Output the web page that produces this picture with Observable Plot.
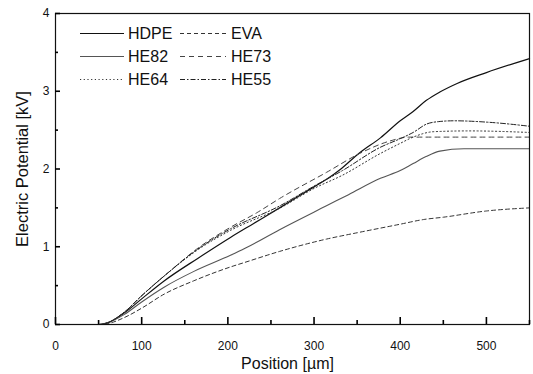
<!DOCTYPE html>
<html>
<head>
<meta charset="utf-8">
<script src="https://cdn.jsdelivr.net/npm/d3@7"></script>
<script src="https://cdn.jsdelivr.net/npm/@observablehq/plot@0.6"></script>
<style>
  html, body { margin: 0; padding: 0; background: #fff; }
  #chart { position: relative; width: 533px; height: 374px; }
  svg { font-family: "Liberation Sans", Arial, sans-serif; }
</style>
</head>
<body>
<div id="chart"></div>
<script>
// ---- data ----
const seriesNames = ["HDPE", "EVA", "HE82", "HE73", "HE64", "HE55"];

const hdpeX = [25, 50, 60, 80, 100, 126, 165, 203, 230, 260, 300, 315, 330, 353, 377, 400, 415, 430, 446, 466, 500, 550];
const hdpeY = [0, 0, 0.02, 0.15, 0.33, 0.56, 0.85, 1.12, 1.30, 1.50, 1.77, 1.87, 1.99, 2.21, 2.40, 2.62, 2.74, 2.88, 2.99, 3.10, 3.24, 3.42];

const evaX = [25, 50, 60, 80, 100, 126, 160, 203, 220, 260, 315, 350, 400, 427, 450, 500, 550];
const evaY = [0, 0, 0.01, 0.09, 0.21, 0.39, 0.56, 0.74, 0.80, 0.94, 1.10, 1.18, 1.29, 1.35, 1.38, 1.46, 1.50];

const he82X = [25, 50, 60, 80, 100, 126, 160, 203, 220, 260, 315, 340, 377, 400, 415, 430, 446, 474, 550];
const he82Y = [0, 0, 0.02, 0.13, 0.29, 0.48, 0.68, 0.89, 0.98, 1.22, 1.53, 1.67, 1.88, 1.98, 2.07, 2.16, 2.23, 2.26, 2.26];

const he73X = [25, 50, 60, 80, 100, 130, 165, 203, 234, 260, 315, 353, 388, 410, 450, 550];
const he73Y = [0, 0, 0.02, 0.16, 0.37, 0.66, 0.98, 1.25, 1.44, 1.62, 1.96, 2.20, 2.36, 2.41, 2.41, 2.41];

const he64X = [25, 50, 60, 80, 100, 130, 165, 203, 261, 300, 333, 377, 400, 415, 439, 480, 550];
const he64Y = [0, 0, 0.02, 0.16, 0.37, 0.66, 0.96, 1.21, 1.50, 1.75, 1.92, 2.20, 2.33, 2.41, 2.48, 2.49, 2.47];

const he55X = [25, 50, 60, 80, 100, 130, 165, 203, 261, 300, 333, 377, 400, 415, 431, 445, 462, 504, 550];
const he55Y = [0, 0, 0.02, 0.16, 0.37, 0.66, 0.97, 1.23, 1.53, 1.78, 1.98, 2.28, 2.39, 2.47, 2.58, 2.61, 2.62, 2.60, 2.55];

const xMajorTicks = [0, 100, 200, 300, 400, 500];
const xMinorTicks = [50, 150, 250, 350, 450, 550];
const yMajorTicks = [0, 1, 2, 3, 4];
const yMinorTicks = [0.5, 1.5, 2.5, 3.5];

// ---- styles ----
const styles = {
  HDPE: {stroke: "#111", strokeWidth: 1.2, dash: null},
  EVA:  {stroke: "#333", strokeWidth: 1, dash: "4,3"},
  HE82: {stroke: "#555", strokeWidth: 1.1, dash: null},
  HE73: {stroke: "#444", strokeWidth: 1, dash: "5,4"},
  HE64: {stroke: "#333", strokeWidth: 1, dash: "1.2,2.5"},
  HE55: {stroke: "#222", strokeWidth: 1, dash: "5,2,1.5,2"}
};

const xs = {HDPE: hdpeX, EVA: evaX, HE82: he82X, HE73: he73X, HE64: he64X, HE55: he55X};
const ys = {HDPE: hdpeY, EVA: evaY, HE82: he82Y, HE73: he73Y, HE64: he64Y, HE55: he55Y};

const lineMarks = seriesNames.map(name => {
  const data = xs[name].map((x, i) => ({x, y: ys[name][i]}));
  const s = styles[name];
  return Plot.line(data, {
    x: "x", y: "y", curve: "monotone-x",
    stroke: s.stroke, strokeWidth: s.strokeWidth,
    strokeDasharray: s.dash
  });
});

const W = 533, H = 374, ML = 55, MR = 4, MT = 13, MB = 50;
const frameW = W - ML - MR, frameH = H - MT - MB;
const fmt = d3.format("d");

const inwardTicksX = (ticks, len) => Plot.tickX(ticks, {x: d => d, insetTop: frameH - len, stroke: "#000", strokeWidth: 1.6});
const inwardTicksY = (ticks, len) => Plot.tickY(ticks, {y: d => d, insetRight: frameW - len, stroke: "#000", strokeWidth: 1.6});

const plot = Plot.plot({
  width: W,
  height: H,
  marginLeft: ML,
  marginRight: MR,
  marginTop: MT,
  marginBottom: MB,
  style: {fontFamily: "'Liberation Sans', Arial, sans-serif", background: "#fff"},
  x: {domain: [0, 550]},
  y: {domain: [0, 4]},
  marks: [
    ...lineMarks,
    Plot.frame({stroke: "#111", strokeWidth: 1.2}),
    Plot.axisX({ticks: xMajorTicks, tickSize: 0, tickPadding: 17, fontSize: 12, tickFormat: fmt, label: null, fill: "#111"}),
    Plot.axisY({ticks: yMajorTicks, tickSize: 0, tickPadding: 6, fontSize: 12, tickFormat: fmt, label: null, fill: "#111"}),
    inwardTicksX(xMajorTicks, 7),
    inwardTicksX(xMinorTicks, 4),
    inwardTicksY(yMajorTicks, 5),
    inwardTicksY(yMinorTicks, 3),
    Plot.text(["Position [\u00b5m]"], {frameAnchor: "bottom", dy: 39, dx: -5, textAnchor: "middle", lineAnchor: "middle", fontSize: 16, fill: "#111"}),
    Plot.text(["Electric Potential [kV]"], {frameAnchor: "left", dx: -33, rotate: -90, textAnchor: "middle", lineAnchor: "middle", fontSize: 16.5, fill: "#111"})
  ]
});

document.getElementById("chart").appendChild(plot);

// ---- legend drawn inside the plot area ----
const legendRows = [["HDPE", "EVA"], ["HE82", "HE73"], ["HE64", "HE55"]];
const svg = d3.select(plot);
const lg = svg.append("g").attr("class", "legend").attr("text-anchor", "start");
const colX = [{x1: 80, x2: 124, tx: 128}, {x1: 180, x2: 226, tx: 231}];
const rowY = [33.5, 56.5, 79.5];
legendRows.forEach((row, r) => {
  row.forEach((name, c) => {
    const s = styles[name];
    lg.append("line")
      .attr("x1", colX[c].x1).attr("x2", colX[c].x2)
      .attr("y1", rowY[r]).attr("y2", rowY[r])
      .attr("stroke", s.stroke).attr("stroke-width", s.strokeWidth)
      .attr("stroke-dasharray", s.dash);
    lg.append("text")
      .attr("x", colX[c].tx).attr("y", rowY[r])
      .attr("dy", "0.36em")
      .attr("text-anchor", "start")
      .attr("font-size", 16)
      .attr("fill", "#111")
      .text(name);
  });
});
</script>
</body>
</html>
